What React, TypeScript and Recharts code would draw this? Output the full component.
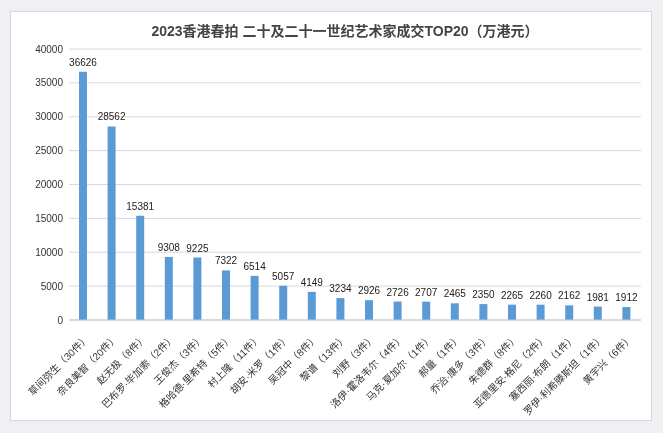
import { BarChart, Bar, XAxis, YAxis, CartesianGrid, LabelList } from "recharts";

const artists = [
  "草间弥生（30件）",
  "奈良美智（20件）",
  "赵无极（8件）",
  "巴布罗·毕加索（2件）",
  "王俊杰（3件）",
  "格哈德·里希特（5件）",
  "村上隆（11件）",
  "胡安·米罗（1件）",
  "吴冠中（8件）",
  "黎谱（13件）",
  "刘野（3件）",
  "洛伊·霍洛韦尔（4件）",
  "马克·夏加尔（1件）",
  "郝量（1件）",
  "乔治·康多（3件）",
  "朱德群（8件）",
  "亚德里安·格尼（2件）",
  "塞西丽·布朗（1件）",
  "罗伊·利希滕斯坦（1件）",
  "黄宇兴（6件）",
];

const totals = [
  36626, 28562, 15381, 9308, 9225, 7322, 6514, 5057, 4149, 3234,
  2926, 2726, 2707, 2465, 2350, 2265, 2260, 2162, 1981, 1912,
];

const yTicks = [0, 5000, 10000, 15000, 20000, 25000, 30000, 35000, 40000];

const data = artists.map((name, i) => ({ name, value: totals[i] }));

const FONT = "'Liberation Sans', 'Noto Sans CJK SC', sans-serif";

const AngledTick = ({ x, y, payload }: any) => (
  <g transform={`translate(${x + 4},${y + 8})`}>
    <text
      transform="rotate(-45)"
      textAnchor="end"
      fontSize={10}
      fill="#333"
      fontFamily={FONT}
      dy={4}
    >
      {payload.value}
    </text>
  </g>
);

export default function App() {
  return (
    <div
      style={{
        position: "fixed",
        left: 0,
        top: 0,
        width: 663,
        height: 433,
        background: "#eef0f4",
        fontFamily: FONT,
      }}
    >
      <div
        style={{
          position: "absolute",
          left: 10,
          top: 11,
          width: 640,
          height: 408,
          background: "#fff",
          border: "1px solid #d6d8dc",
        }}
      >
        <div
          style={{
            position: "absolute",
            left: 14,
            top: 8,
            width: 640,
            textAlign: "center",
            fontSize: 14,
            fontWeight: "bold",
            color: "#444",
          }}
        >
          2023香港春拍 二十及二十一世纪艺术家成交TOP20（万港元）
        </div>
        <BarChart
          width={640}
          height={408}
          data={data}
          margin={{ top: 37, right: 10, bottom: 0, left: 0 }}
        >
          <CartesianGrid vertical={false} stroke="#d9d9d9" />
          <XAxis
            dataKey="name"
            interval={0}
            tick={<AngledTick />}
            tickLine={false}
            axisLine={{ stroke: "#c8c8c8" }}
            height={100}
          />
          <YAxis
            domain={[0, 40000]}
            ticks={yTicks}
            width={58}
            tickLine={false}
            axisLine={false}
            tickSize={4}
            tick={{ fontSize: 10, fill: "#333", fontFamily: FONT }}
          />
          <Bar dataKey="value" fill="#5b9bd5" barSize={8} isAnimationActive={false}>
            <LabelList
              dataKey="value"
              position="top"
              offset={6}
              style={{ fontSize: 10, fill: "#222", fontFamily: FONT }}
            />
          </Bar>
        </BarChart>
      </div>
    </div>
  );
}
